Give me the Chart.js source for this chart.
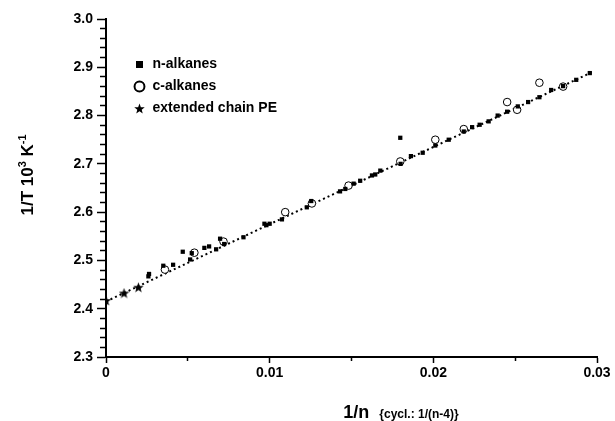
<!DOCTYPE html>
<html><head><meta charset="utf-8">
<script src="https://cdn.jsdelivr.net/npm/chart.js@4.4.1/dist/chart.umd.min.js"></script>
<style>html,body{margin:0;padding:0;background:#fff;}</style>
</head><body>
<canvas id="c" width="615" height="421"></canvas>
<script>
// ---- data ----
const seriesNames = ['n-alkanes', 'c-alkanes', 'extended chain PE'];
const nAlkX = [0.00259,0.00263,0.0035,0.0041,0.00469,0.00514,0.00524,0.00601,0.0063,0.00673,0.00697,0.00722,0.0084,0.00968,0.0098,0.0100,0.01075,0.01227,0.01254,0.0143,0.01462,0.01513,0.01553,0.01625,0.01645,0.01676,0.01798,0.0180,0.01863,0.01935,0.02012,0.02094,0.02186,0.02237,0.02283,0.02338,0.02393,0.02451,0.02516,0.02579,0.02648,0.0272,0.02793,0.02873,0.02956];
const nAlkY = [2.467,2.472,2.489,2.491,2.518,2.502,2.515,2.526,2.529,2.523,2.545,2.534,2.548,2.576,2.573,2.576,2.585,2.610,2.623,2.643,2.648,2.659,2.665,2.676,2.678,2.686,2.754,2.700,2.716,2.723,2.738,2.750,2.767,2.776,2.781,2.788,2.800,2.808,2.819,2.828,2.838,2.853,2.861,2.874,2.888];
const cAlkX = [0.0036,0.0054,0.00718,0.01095,0.01258,0.01482,0.01798,0.02012,0.02186,0.02451,0.02512,0.02648,0.02793];
const cAlkY = [2.481,2.516,2.539,2.600,2.618,2.655,2.705,2.750,2.772,2.828,2.812,2.868,2.860];
const peX = [0, 0.0011, 0.00198];
const peY = [2.417, 2.4325, 2.4445];
const fitX = [0, 0.0297];
const fitY = [2.415, 2.890];
const xTickLabels = ['0', '0.01', '0.02', '0.03'];
const yTickLabels = ['2.3', '2.4', '2.5', '2.6', '2.7', '2.8', '2.9', '3.0'];

// ---- helpers ----
const FONT = '"Liberation Sans", Arial, Helvetica, sans-serif';
const toPts = (xs, ys) => xs.map((x, i) => ({x: x, y: ys[i]}));
function makeStar(size) {
  const c = document.createElement('canvas');
  c.width = size; c.height = size;
  const g = c.getContext('2d');
  const cx = size / 2, cy = size / 2 + 0.5, R = size / 2, r = R * 0.42;
  g.beginPath();
  for (let i = 0; i < 10; i++) {
    const a = -Math.PI / 2 + i * Math.PI / 5;
    const rad = i % 2 ? r : R;
    g.lineTo(cx + rad * Math.cos(a), cy + rad * Math.sin(a));
  }
  g.closePath(); g.fillStyle = '#000'; g.fill();
  return c;
}
const starImg = makeStar(11);
const isMajor = (v, step) => Math.abs(v / step - Math.round(v / step)) < 1e-6;

const legendPlace = {
  id: 'legendPlace',
  afterLayout(chart) {
    const lg = chart.legend; if (!lg) return;
    const w = lg.width, h = lg.height;
    lg.left = chart.chartArea.left + 19.5;
    lg.top = chart.chartArea.top + 30.5;
    lg.right = lg.left + w; lg.bottom = lg.top + h;
  }
};

const axisTitles = {
  id: 'axisTitles',
  afterDraw(chart) {
    const g = chart.ctx;
    g.save();
    g.fillStyle = '#000';
    g.textBaseline = 'alphabetic';
    g.textAlign = 'left';
    // x title
    const t1 = '1/n', t2 = '{cycl.: 1/(n-4)}';
    const f1 = 'bold 18px ' + FONT, f2 = 'bold 12px ' + FONT;
    g.font = f1; const w1 = g.measureText(t1).width;
    g.font = f2; const w2 = g.measureText(t2).width;
    const gap = 10;
    let x0 = 401 - (w1 + gap + w2) / 2;
    const base = 418;
    g.font = f1; g.fillText(t1, x0, base);
    g.font = f2; g.fillText(t2, x0 + w1 + gap, base);
    // y title (rotated)
    const parts = [
      {t: '1/T 10', f: 'bold 17px ' + FONT, dy: 0},
      {t: '3', f: 'bold 11px ' + FONT, dy: -7},
      {t: ' K', f: 'bold 17px ' + FONT, dy: 0},
      {t: '-1', f: 'bold 11px ' + FONT, dy: -7}
    ];
    let total = 0;
    parts.forEach(p => { g.font = p.f; p.w = g.measureText(p.t).width; total += p.w; });
    g.translate(33, 175);
    g.rotate(-Math.PI / 2);
    let cx = -total / 2;
    parts.forEach(p => { g.font = p.f; g.fillText(p.t, cx, p.dy); cx += p.w; });
    g.restore();
  }
};

Chart.defaults.font.family = FONT;
Chart.defaults.font.weight = 'bold';
Chart.defaults.color = '#000';

new Chart(document.getElementById('c'), {
  type: 'scatter',
  data: {
    datasets: [
      {label: seriesNames[0], data: toPts(nAlkX, nAlkY), pointStyle: 'rect', pointRadius: 3, borderWidth: 0,
       backgroundColor: '#000', borderColor: '#000'},
      {label: seriesNames[1], data: toPts(cAlkX, cAlkY), pointStyle: 'circle', pointRadius: 3.8, borderWidth: 1,
       backgroundColor: '#fff', borderColor: '#000'},
      {label: seriesNames[2], data: toPts(peX, peY), pointStyle: starImg, pointRadius: 5,
       backgroundColor: '#000', borderColor: '#000'},
      {label: 'fit', data: toPts(fitX, fitY), showLine: true, pointRadius: 0, borderColor: '#000',
       borderWidth: 2, borderDash: [2, 3], fill: false}
    ]
  },
  options: {
    responsive: false,
    animation: false,
    devicePixelRatio: 1,
    layout: {padding: {top: 19, right: 18, left: 0, bottom: 0}},
    plugins: {
      tooltip: {enabled: false},
      legend: {
        position: 'chartArea',
        align: 'start',
        labels: {
          filter: (item) => item.datasetIndex < 3,
          usePointStyle: true,
          boxWidth: 12,
          boxHeight: 7,
          padding: 8,
          color: '#000',
          font: {size: 14, weight: 'bold', family: FONT},
          generateLabels: (chart) => {
            const items = Chart.defaults.plugins.legend.labels.generateLabels(chart);
            items.forEach(it => { if (it.datasetIndex === 1) it.lineWidth = 2; });
            return items;
          }
        }
      }
    },
    scales: {
      x: {
        type: 'linear', min: 0, max: 0.03,
        afterFit: (s) => { s.height = 64; },
        border: {display: true, color: '#000', width: 2},
        grid: {display: true, drawOnChartArea: false, drawTicks: true, tickLength: 6, tickColor: '#000', tickWidth: 1.5,
          tickBorderDash: (ctx) => (ctx.tick && isMajor(ctx.tick.value, 0.01)) ? [] : [3, 30],
          tickBorderDashOffset: 0},
        ticks: {
          stepSize: 0.005, autoSkip: false, maxRotation: 0, padding: 2,
          font: {size: 14, weight: 'bold'}, color: '#000',
          callback: (v) => isMajor(v, 0.01) ? xTickLabels[Math.round(v / 0.01)] : ''
        }
      },
      y: {
        type: 'linear', min: 2.3, max: 3.0,
        afterFit: (s) => { s.width = 106; },
        border: {display: true, color: '#000', width: 2},
        grid: {display: true, drawOnChartArea: false, drawTicks: true, tickLength: 9, tickColor: '#000', tickWidth: 1.5,
          tickBorderDash: (ctx) => (ctx.tick && isMajor(ctx.tick.value, 0.1)) ? [] : [6, 20],
          tickBorderDashOffset: (ctx) => (ctx.tick && isMajor(ctx.tick.value, 0.1)) ? 0 : 23},
        ticks: {
          stepSize: 0.02, autoSkip: false, padding: 4,
          font: {size: 14, weight: 'bold'}, color: '#000',
          callback: (v) => isMajor(v, 0.1) ? yTickLabels[Math.round((v - 2.3) / 0.1)] : ''
        }
      }
    }
  },
  plugins: [legendPlace, axisTitles]
});
</script>
</body></html>
